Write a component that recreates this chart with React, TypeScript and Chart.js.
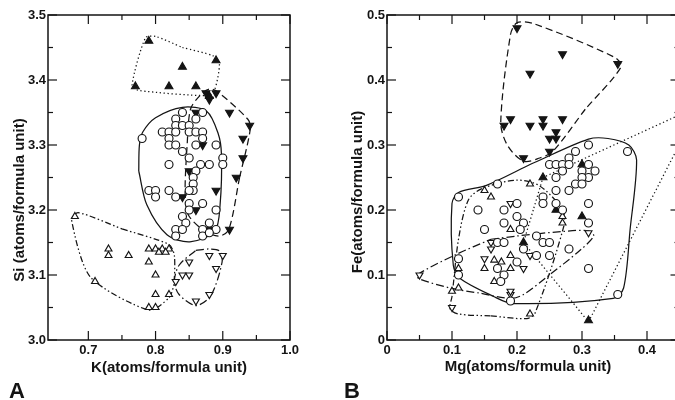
import React, { useEffect, useRef } from 'react';
import { Chart, registerables } from 'chart.js';

Chart.register(...registerables);

type P = [number, number];

const INK = '#141414';
const FONT = '"Liberation Sans", Arial, sans-serif';

// ---------------- Panel A : K vs Si ----------------
const A_X_MAJOR = [0.7, 0.8, 0.9, 1.0];
const A_X_LABELS = ['0.7', '0.8', '0.9', '1.0'];
const A_X_MINOR = [0.75, 0.85, 0.95];
const A_Y_MAJOR = [3.0, 3.1, 3.2, 3.3, 3.4, 3.5];
const A_Y_LABELS = ['3.0', '3.1', '3.2', '3.3', '3.4', '3.5'];
const A_Y_MINOR = [3.05, 3.15, 3.25, 3.35, 3.45];

const A_CIRCLES: P[] = [
  [0.84, 3.35], [0.87, 3.35], [0.83, 3.34], [0.86, 3.34], [0.78, 3.31], [0.81, 3.32], [0.82, 3.32],
  [0.83, 3.33], [0.84, 3.33], [0.85, 3.33], [0.83, 3.32], [0.85, 3.32], [0.86, 3.32], [0.87, 3.32],
  [0.82, 3.31], [0.87, 3.31], [0.82, 3.30], [0.83, 3.30], [0.86, 3.30], [0.89, 3.30], [0.84, 3.29],
  [0.85, 3.28], [0.90, 3.28], [0.90, 3.27], [0.82, 3.27], [0.867, 3.27], [0.88, 3.27], [0.86, 3.26],
  [0.856, 3.25], [0.856, 3.24], [0.856, 3.23], [0.79, 3.23], [0.80, 3.23], [0.80, 3.22], [0.82, 3.23],
  [0.83, 3.22], [0.85, 3.23], [0.85, 3.21], [0.87, 3.21], [0.85, 3.20], [0.89, 3.20], [0.84, 3.19],
  [0.845, 3.18], [0.88, 3.18], [0.83, 3.17], [0.84, 3.17], [0.83, 3.16], [0.87, 3.17], [0.89, 3.17],
  [0.87, 3.16], [0.88, 3.165],
];
const A_FILLED_DOWN: P[] = [
  [0.875, 3.38], [0.88, 3.37], [0.89, 3.38], [0.86, 3.35], [0.91, 3.35], [0.94, 3.33], [0.93, 3.31],
  [0.87, 3.30], [0.93, 3.28], [0.92, 3.25], [0.85, 3.26], [0.89, 3.23], [0.84, 3.22], [0.86, 3.20],
  [0.91, 3.17], [0.88, 3.17],
];
const A_FILLED_UP: P[] = [
  [0.79, 3.46], [0.84, 3.42], [0.89, 3.43], [0.77, 3.39], [0.82, 3.39], [0.86, 3.39], [0.88, 3.375],
];
const A_OPEN_UP: P[] = [
  [0.68, 3.19], [0.73, 3.14], [0.73, 3.13], [0.76, 3.13], [0.71, 3.09], [0.79, 3.14], [0.80, 3.14],
  [0.81, 3.14], [0.82, 3.14], [0.805, 3.135], [0.815, 3.135], [0.79, 3.12], [0.80, 3.10], [0.80, 3.07],
  [0.82, 3.07], [0.79, 3.05], [0.80, 3.05],
];
const A_OPEN_DOWN: P[] = [
  [0.85, 3.12], [0.88, 3.13], [0.90, 3.13], [0.89, 3.11], [0.84, 3.10], [0.85, 3.10], [0.83, 3.09],
  [0.88, 3.07], [0.86, 3.06],
];

const A_HULL_FILLED_UP: P[] = [
  [0.84, 3.45], [0.886, 3.437], [0.895, 3.425], [0.888, 3.385], [0.878, 3.376], [0.775, 3.384],
  [0.765, 3.392], [0.785, 3.465], [0.80, 3.467],
];
const A_HULL_CIRCLES: P[] = [
  [0.775, 3.26], [0.776, 3.30], [0.781, 3.32], [0.80, 3.342], [0.84, 3.358], [0.876, 3.352],
  [0.893, 3.318], [0.898, 3.286], [0.896, 3.208], [0.888, 3.167], [0.851, 3.151], [0.817, 3.162],
  [0.787, 3.208],
];
const A_HULL_FILLED_DOWN: P[] = [
  [0.925, 3.25], [0.909, 3.17], [0.895, 3.16], [0.874, 3.167], [0.849, 3.192], [0.844, 3.225],
  [0.847, 3.30], [0.852, 3.355], [0.866, 3.376], [0.88, 3.386], [0.892, 3.382], [0.937, 3.34],
  [0.941, 3.325],
];
const A_HULL_OPEN_UP: P[] = [
  [0.75, 3.171], [0.82, 3.147], [0.828, 3.13], [0.827, 3.085], [0.82, 3.065], [0.79, 3.046],
  [0.703, 3.097], [0.675, 3.185], [0.685, 3.196],
];
const A_HULL_OPEN_DOWN: P[] = [
  [0.86, 3.138], [0.88, 3.14], [0.895, 3.137], [0.899, 3.12], [0.882, 3.068], [0.86, 3.053],
  [0.835, 3.07], [0.828, 3.09], [0.835, 3.115],
];

// ---------------- Panel B : Mg vs Fe ----------------
const B_X_MAJOR = [0, 0.1, 0.2, 0.3, 0.4];
const B_X_LABELS = ['0', '0.1', '0.2', '0.3', '0.4'];
const B_X_MINOR = [0.05, 0.15, 0.25, 0.35];
const B_Y_MAJOR = [0, 0.1, 0.2, 0.3, 0.4, 0.5];
const B_Y_LABELS = ['0', '0.1', '0.2', '0.3', '0.4', '0.5'];
const B_Y_MINOR = [0.05, 0.15, 0.25, 0.35, 0.45];

const B_CIRCLES: P[] = [
  [0.31, 0.30], [0.37, 0.29], [0.29, 0.29], [0.28, 0.28], [0.25, 0.27], [0.26, 0.27], [0.27, 0.27],
  [0.28, 0.27], [0.31, 0.27], [0.32, 0.26], [0.30, 0.26], [0.31, 0.25], [0.30, 0.25], [0.27, 0.26],
  [0.26, 0.25], [0.29, 0.24], [0.30, 0.24], [0.28, 0.23], [0.26, 0.23], [0.24, 0.22], [0.24, 0.21],
  [0.26, 0.21], [0.27, 0.20], [0.31, 0.21], [0.31, 0.18], [0.28, 0.14], [0.31, 0.11], [0.355, 0.07],
  [0.19, 0.06], [0.11, 0.22], [0.14, 0.20], [0.17, 0.24], [0.15, 0.17], [0.18, 0.20], [0.18, 0.18],
  [0.20, 0.21], [0.20, 0.19], [0.21, 0.18], [0.205, 0.17], [0.17, 0.15], [0.18, 0.15], [0.23, 0.16],
  [0.24, 0.15], [0.25, 0.15], [0.21, 0.14], [0.23, 0.13], [0.25, 0.13], [0.20, 0.12], [0.17, 0.11],
  [0.18, 0.10], [0.175, 0.09], [0.11, 0.125], [0.11, 0.10],
];
const B_FILLED_DOWN: P[] = [
  [0.20, 0.48], [0.27, 0.44], [0.355, 0.425], [0.22, 0.41], [0.18, 0.33], [0.19, 0.34], [0.22, 0.33],
  [0.24, 0.34], [0.24, 0.33], [0.27, 0.34], [0.26, 0.32], [0.25, 0.31], [0.26, 0.31], [0.25, 0.29],
  [0.21, 0.28],
];
const B_FILLED_UP: P[] = [
  [0.24, 0.25], [0.30, 0.27], [0.26, 0.20], [0.30, 0.19], [0.21, 0.15], [0.31, 0.03],
];
const B_OPEN_UP: P[] = [
  [0.15, 0.23], [0.16, 0.22], [0.22, 0.24], [0.19, 0.17], [0.27, 0.19], [0.27, 0.18], [0.165, 0.123],
  [0.176, 0.12], [0.19, 0.13], [0.15, 0.11], [0.165, 0.09], [0.19, 0.11], [0.11, 0.11], [0.11, 0.08],
  [0.10, 0.075], [0.22, 0.04],
];
const B_OPEN_DOWN: P[] = [
  [0.19, 0.21], [0.16, 0.15], [0.16, 0.14], [0.15, 0.125], [0.22, 0.13], [0.21, 0.11], [0.19, 0.07],
  [0.19, 0.075], [0.31, 0.165], [0.05, 0.10], [0.10, 0.05],
];

const B_HULL_FILLED_DOWN: P[] = [
  [0.305, 0.355], [0.255, 0.29], [0.235, 0.28], [0.21, 0.275], [0.185, 0.30], [0.175, 0.335],
  [0.19, 0.47], [0.20, 0.488], [0.225, 0.487], [0.35, 0.435], [0.36, 0.42],
];
const B_HULL_CIRCLES: P[] = [
  [0.22, 0.27], [0.31, 0.309], [0.34, 0.31], [0.372, 0.30], [0.384, 0.277], [0.374, 0.17],
  [0.364, 0.08], [0.348, 0.064], [0.194, 0.056], [0.164, 0.067], [0.112, 0.095], [0.102, 0.115],
  [0.10, 0.21], [0.11, 0.227], [0.153, 0.238],
];
const B_HULL_FILLED_UP: P[] = [
  [0.225, 0.20], [0.21, 0.15], [0.31, 0.028], [0.48, 0.36], [0.24, 0.25],
];
const B_HULL_OPEN_UP: P[] = [
  [0.16, 0.037], [0.215, 0.033], [0.228, 0.042], [0.272, 0.175], [0.27, 0.20], [0.235, 0.237],
  [0.20, 0.246], [0.146, 0.233], [0.125, 0.215], [0.11, 0.155], [0.10, 0.067], [0.097, 0.048],
  [0.11, 0.04],
];
const B_HULL_OPEN_DOWN: P[] = [
  [0.16, 0.155], [0.20, 0.16], [0.27, 0.167], [0.31, 0.168], [0.318, 0.16], [0.297, 0.138],
  [0.246, 0.097], [0.21, 0.07], [0.19, 0.064], [0.143, 0.072], [0.097, 0.08], [0.05, 0.094],
  [0.046, 0.10], [0.105, 0.131],
];

// ---------------- styles ----------------
const SOLID: number[] = [];
const DASHED = [7, 4];
const DOTTED = [1.3, 2.6];
const DASH_DOT = [8, 3, 1.5, 3];
const DASH_DOT_DOT = [6, 2.5, 1.5, 2.5, 1.5, 2.5];

const near = (a: number, b: number) => Math.abs(a - b) < 1e-6;

function hull(pts: P[], dash: number[], tension = 0.3) {
  return {
    data: [...pts, pts[0]].map(([x, y]) => ({ x, y })),
    showLine: true,
    borderColor: INK,
    borderWidth: 1.25,
    borderDash: dash,
    pointRadius: 0,
    pointHoverRadius: 0,
    tension,
    fill: false,
    order: 2,
  };
}

function marks(pts: P[], style: string, filled: boolean, rotation: number, radius: number) {
  return {
    data: pts.map(([x, y]) => ({ x, y })),
    showLine: false,
    pointStyle: style,
    pointRadius: radius,
    pointRotation: rotation,
    borderColor: INK,
    borderWidth: 1.15,
    backgroundColor: filled ? INK : '#ffffff',
    order: 1,
  };
}

const decor = {
  id: 'decor',
  afterDraw(chart: any, _args: any, o: any) {
    const { ctx, chartArea: a } = chart;
    const xs = chart.scales.x;
    const ys = chart.scales.y;
    ctx.save();
    ctx.strokeStyle = INK;
    ctx.lineWidth = 1.5;
    ctx.setLineDash([]);
    ctx.strokeRect(a.left, a.top, a.right - a.left, a.bottom - a.top);
    ctx.lineWidth = 1.2;
    const seg = (x1: number, y1: number, x2: number, y2: number) => {
      ctx.beginPath();
      ctx.moveTo(x1, y1);
      ctx.lineTo(x2, y2);
      ctx.stroke();
    };
    for (const t of xs.ticks) {
      const px = xs.getPixelForValue(t.value);
      const len = o.xMajor.some((m: number) => near(m, t.value)) ? 9 : 5;
      seg(px, a.bottom, px, a.bottom - len);
      seg(px, a.top, px, a.top + len);
    }
    for (const t of ys.ticks) {
      const py = ys.getPixelForValue(t.value);
      const len = o.yMajor.some((m: number) => near(m, t.value)) ? 9 : 5;
      seg(a.left, py, a.left + len, py);
      seg(a.right, py, a.right - len, py);
    }
    ctx.fillStyle = INK;
    ctx.font = `bold 15px ${FONT}`;
    ctx.textAlign = 'center';
    ctx.textBaseline = 'middle';
    ctx.fillText(o.xTitle, o.xTitleX, o.xTitleY);
    ctx.save();
    ctx.translate(o.yTitleX, o.yTitleY);
    ctx.rotate(-Math.PI / 2);
    ctx.fillText(o.yTitle, 0, 0);
    ctx.restore();
    ctx.font = `bold 22px ${FONT}`;
    ctx.textAlign = 'left';
    ctx.textBaseline = 'alphabetic';
    ctx.fillText(o.letter, o.letterX, o.letterY);
    ctx.restore();
  },
};

type Spec = {
  xMin: number; xMax: number; yMin: number; yMax: number;
  xMajor: number[]; xLabels: string[]; xMinor: number[];
  yMajor: number[]; yLabels: string[]; yMinor: number[];
  yAxisW: number; xAxisH: number; padTop: number; padRight: number;
  datasets: any[];
  decor: any;
};

function makeConfig(s: Spec): any {
  const tickFont = { family: FONT, size: 13, weight: 'bold' as const };
  const label = (major: number[], labels: string[]) => (v: number) => {
    const i = major.findIndex((m) => near(m, v));
    return i >= 0 ? labels[i] : '';
  };
  return {
    type: 'scatter',
    data: { datasets: s.datasets },
    options: {
      responsive: false,
      animation: false,
      events: [],
      layout: { padding: { top: s.padTop, right: s.padRight, left: 0, bottom: 0 } },
      plugins: {
        legend: { display: false },
        tooltip: { enabled: false },
        decor: { ...s.decor, xMajor: s.xMajor, yMajor: s.yMajor },
      },
      scales: {
        x: {
          type: 'linear',
          min: s.xMin,
          max: s.xMax,
          afterBuildTicks: (sc: any) => {
            sc.ticks = [...s.xMajor, ...s.xMinor].sort((a, b) => a - b).map((value) => ({ value }));
          },
          afterFit: (sc: any) => { sc.height = s.xAxisH; },
          grid: { display: false, drawTicks: false },
          border: { display: false },
          ticks: {
            autoSkip: false, maxRotation: 0, padding: 3, color: INK, font: tickFont,
            callback: label(s.xMajor, s.xLabels),
          },
        },
        y: {
          type: 'linear',
          min: s.yMin,
          max: s.yMax,
          afterBuildTicks: (sc: any) => {
            sc.ticks = [...s.yMajor, ...s.yMinor].sort((a, b) => a - b).map((value) => ({ value }));
          },
          afterFit: (sc: any) => { sc.width = s.yAxisW; },
          grid: { display: false, drawTicks: false },
          border: { display: false },
          ticks: {
            autoSkip: false, padding: 2, color: INK, font: tickFont,
            callback: label(s.yMajor, s.yLabels),
          },
        },
      },
    },
    plugins: [decor],
  };
}

const SPEC_A: Spec = {
  xMin: 0.64, xMax: 1.0, yMin: 3.0, yMax: 3.5,
  xMajor: A_X_MAJOR, xLabels: A_X_LABELS, xMinor: A_X_MINOR,
  yMajor: A_Y_MAJOR, yLabels: A_Y_LABELS, yMinor: A_Y_MINOR,
  yAxisW: 48, xAxisH: 60, padTop: 15, padRight: 40,
  datasets: [
    hull(A_HULL_FILLED_UP, DOTTED, 0.25),
    hull(A_HULL_CIRCLES, SOLID, 0.3),
    hull(A_HULL_FILLED_DOWN, DASHED, 0.3),
    hull(A_HULL_OPEN_UP, DASH_DOT_DOT, 0.25),
    hull(A_HULL_OPEN_DOWN, DASH_DOT, 0.3),
    marks(A_CIRCLES, 'circle', false, 0, 4),
    marks(A_OPEN_UP, 'triangle', false, 0, 4),
    marks(A_OPEN_DOWN, 'triangle', false, 180, 4),
    marks(A_FILLED_UP, 'triangle', true, 0, 4.5),
    marks(A_FILLED_DOWN, 'triangle', true, 180, 4.5),
  ],
  decor: {
    xTitle: 'K(atoms/formula unit)', xTitleX: 169, xTitleY: 368,
    yTitle: 'Si (atoms/formula unit)', yTitleX: 20, yTitleY: 200,
    letter: 'A', letterX: 9, letterY: 398,
  },
};

const SPEC_B: Spec = {
  xMin: 0, xMax: 0.45, yMin: 0, yMax: 0.5,
  xMajor: B_X_MAJOR, xLabels: B_X_LABELS, xMinor: B_X_MINOR,
  yMajor: B_Y_MAJOR, yLabels: B_Y_LABELS, yMinor: B_Y_MINOR,
  yAxisW: 47, xAxisH: 60, padTop: 15, padRight: 20.5,
  datasets: [
    hull(B_HULL_FILLED_DOWN, DASHED, 0.3),
    hull(B_HULL_CIRCLES, SOLID, 0.3),
    hull(B_HULL_FILLED_UP, DOTTED, 0),
    hull(B_HULL_OPEN_UP, DASH_DOT_DOT, 0.3),
    hull(B_HULL_OPEN_DOWN, DASH_DOT, 0.3),
    marks(B_CIRCLES, 'circle', false, 0, 4),
    marks(B_OPEN_UP, 'triangle', false, 0, 4),
    marks(B_OPEN_DOWN, 'triangle', false, 180, 4),
    marks(B_FILLED_UP, 'triangle', true, 0, 4.5),
    marks(B_FILLED_DOWN, 'triangle', true, 180, 4.5),
  ],
  decor: {
    xTitle: 'Mg(atoms/formula unit)', xTitleX: 188, xTitleY: 367,
    yTitle: 'Fe(atoms/formula unit)', yTitleX: 18, yTitleY: 192,
    letter: 'B', letterX: 4, letterY: 398,
  },
};

export default function App() {
  const refA = useRef<HTMLCanvasElement>(null);
  const refB = useRef<HTMLCanvasElement>(null);
  useEffect(() => {
    const ca = new Chart(refA.current as HTMLCanvasElement, makeConfig(SPEC_A));
    const cb = new Chart(refB.current as HTMLCanvasElement, makeConfig(SPEC_B));
    return () => {
      ca.destroy();
      cb.destroy();
    };
  }, []);
  return (
    <div style={{ position: 'fixed', left: 0, top: 0, width: 675, height: 400, overflow: 'hidden', background: '#fff' }}>
      <canvas ref={refA} width={330} height={400} style={{ position: 'absolute', left: 0, top: 0 }} />
      <canvas ref={refB} width={360} height={400} style={{ position: 'absolute', left: 340, top: 0 }} />
    </div>
  );
}
